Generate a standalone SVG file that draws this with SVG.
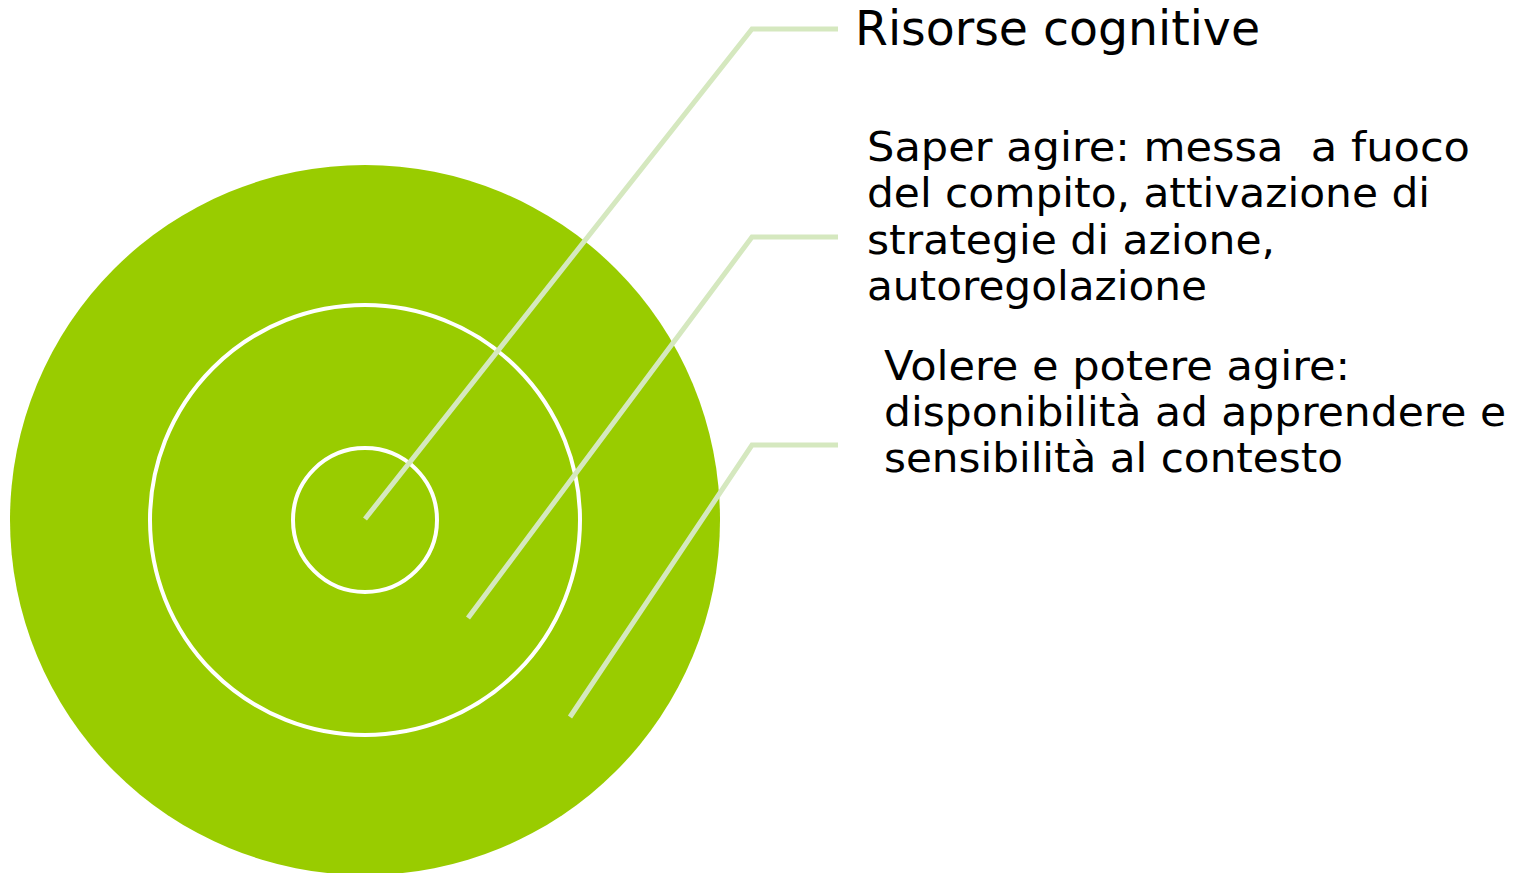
<svg xmlns="http://www.w3.org/2000/svg" width="1525" height="873" viewBox="0 0 1525 873">
<style>
.ring{fill:none;stroke:#ffffff;stroke-width:4}
.conn{fill:none;stroke:#D5E8BF;stroke-width:5}
.lbl{font-family:"DejaVu Sans","Liberation Sans",sans-serif;fill:#000000}
</style>
<rect width="1525" height="873" fill="#ffffff"/>
<g id="outer"><circle cx="365" cy="520" r="355" fill="#99CC00"/></g>
<g id="middle"><circle class="ring" cx="365" cy="520" r="215"/></g>
<g id="inner"><circle class="ring" cx="365" cy="520" r="72"/></g>
<g id="connectors">
<polyline class="conn" points="365,519 752,29 838,29"/>
<polyline class="conn" points="468,618 752,237 838,237"/>
<polyline class="conn" points="570,717 752,445 838,445"/>
</g>
<g id="label1">
<text class="lbl" x="855" y="45" font-size="48" textLength="405" lengthAdjust="spacingAndGlyphs">Risorse cognitive</text>
</g>
<g id="label2" font-size="40">
<text class="lbl" x="867" y="161" textLength="603" lengthAdjust="spacingAndGlyphs" xml:space="preserve">Saper agire: messa  a fuoco</text>
<text class="lbl" x="867" y="207" textLength="563" lengthAdjust="spacingAndGlyphs">del compito, attivazione di</text>
<text class="lbl" x="867" y="254" textLength="408" lengthAdjust="spacingAndGlyphs">strategie di azione,</text>
<text class="lbl" x="867" y="300" textLength="340" lengthAdjust="spacingAndGlyphs">autoregolazione</text>
</g>
<g id="label3" font-size="40">
<text class="lbl" x="884" y="380" textLength="466" lengthAdjust="spacingAndGlyphs">Volere e potere agire:</text>
<text class="lbl" x="884" y="426" textLength="622" lengthAdjust="spacingAndGlyphs">disponibilità ad apprendere e</text>
<text class="lbl" x="884" y="472" textLength="459" lengthAdjust="spacingAndGlyphs">sensibilità al contesto</text>
</g>
</svg>
